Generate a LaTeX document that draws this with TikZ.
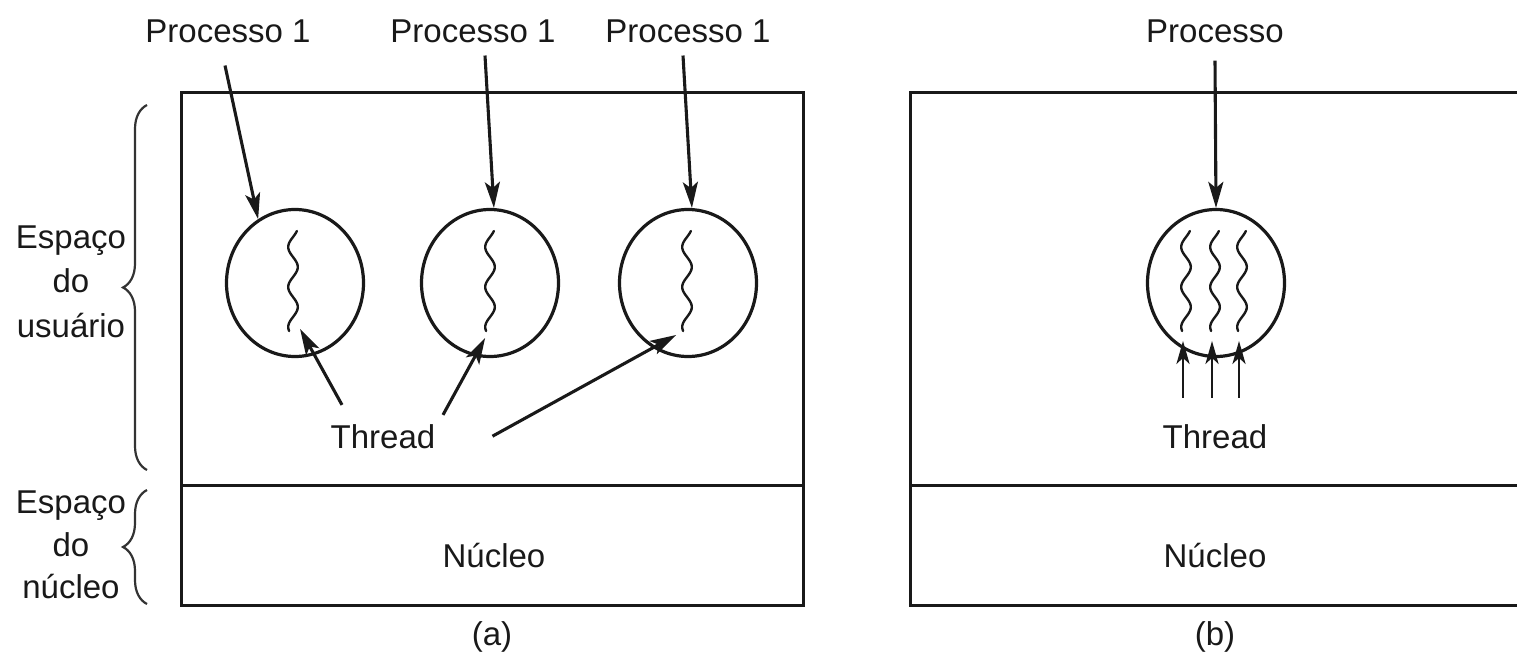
\documentclass[tikz,border=0pt]{standalone}
\usepackage{fontspec}
\setmainfont{Liberation Sans}
\usetikzlibrary{arrows.meta,decorations.pathreplacing,shapes.geometric,calc}

% wavy thread line: #1 = x centre, #2 = top y, #3 = name of its lower end
\newcommand\threadwave[3]{%
  \draw[thr] plot[domain=0:100, samples=60, smooth] ({#1+4.8*cos(9*(\x-36))}, {#2+\x});
  \coordinate (#3) at ({#1-3.9}, {#2+100});
}

\begin{document}
\begin{tikzpicture}[x=1pt, y=-1pt,
  lbl/.style={font=\fontsize{33}{36}\selectfont, inner sep=0pt, anchor=base, text=black!90},
  frame/.style={line width=3pt, draw=black!90},
  proc/.style={ellipse, draw=black!90, line width=3.2pt, minimum width=137pt,
               minimum height=147pt, inner sep=0pt},
  ptr/.style={line width=3.1pt, draw=black!90, -{Stealth[length=26pt,width=15pt,inset=6pt]}},
  upptr/.style={line width=2.9pt, draw=black!90, -{Stealth[length=23pt,width=13pt,inset=6pt]}},
  thr/.style={line width=2.4pt, draw=black!90, line cap=round},
  spanbrace/.style={line width=2.2pt, draw=black!80, decorate,
                    decoration={brace, amplitude=24pt}},
]
\useasboundingbox (0,0) rectangle (1517,656);

% ---------- (a) several single-threaded processes ----------
\draw[frame] (181,92) rectangle (803,605);
\draw[frame] (181,485) -- (803,485);

\node[proc] (c1) at (295,283) {};
\node[proc] (c2) at (490,283) {};
\node[proc] (c3) at (688,283) {};

\threadwave{293}{231}{w1}
\threadwave{490}{231}{w2}
\threadwave{687}{231}{w3}

\node[lbl] (p1) at (228,42) {Processo 1};
\node[lbl] (p2) at (473,42) {Processo 1};
\node[lbl] (p3) at (688,42) {Processo 1};

\draw[ptr] ($(p1.south)+(-3,23)$) -- (c1.120);
\draw[ptr] ($(p2.south)+(12,13)$) -- (c2.87);
\draw[ptr] ($(p3.south)+(-5,13)$) -- (c3.87);

\node[lbl] (th) at (383,448) {Thread};
\coordinate (h1) at ($(w1)+(11,-2)$);
\coordinate (h2) at ($(w2)+(-1,7)$);
\coordinate (h3) at ($(w3)+(-7,4)$);
\draw[ptr] ($(th.north)+(-41,-19)$) -- (h1);
\draw[ptr] ($(th.north)+(60,-9)$) -- (h2);
\draw[ptr] ($(th.east)+(57,0)$) -- (h3);

\node[lbl] (nA) at (494,567) {Núcleo};
\node[lbl] (capA) at (492,645) {(a)};

% side labels with braces
\node[lbl] (u1) at (71,248) {Espaço};
\node[lbl] (u2) at (71,292) {do};
\node[lbl] (u3) at (71,337) {usuário};
\node[lbl] (k1) at (71,513) {Espaço};
\node[lbl] (k2) at (71,556) {do};
\node[lbl] (k3) at (71,598) {núcleo};

\draw[spanbrace] (147,470) -- (147,105);
\draw[spanbrace] (147,604) -- (147,490);

% ---------- (b) one multithreaded process ----------
\draw[frame] (1525,92) -- (910,92) -- (910,605) -- (1525,605);
\draw[frame] (910,485) -- (1525,485);

\node[proc] (cR) at (1216,283) {};
\threadwave{1186}{231}{r1}
\threadwave{1215}{231}{r2}
\threadwave{1242}{231}{r3}

\node[lbl] (pR) at (1215,42) {Processo};
\draw[ptr] ($(pR.south)+(0,18)$) -- (cR.north);

\node[lbl] (thR) at (1215,448) {Thread};
\foreach \dx/\n in {-32/a, -3/b, 24/c} {
  \coordinate (s\n) at ($(thR.north)+(\dx,-26)$);
  \coordinate (e\n) at ($(thR.north)+(\dx,-83)$);
  \draw[upptr] (s\n) -- (e\n);
}

\node[lbl] (nB) at (1215,567) {Núcleo};
\node[lbl] (capB) at (1215,645) {(b)};
\end{tikzpicture}
\end{document}
